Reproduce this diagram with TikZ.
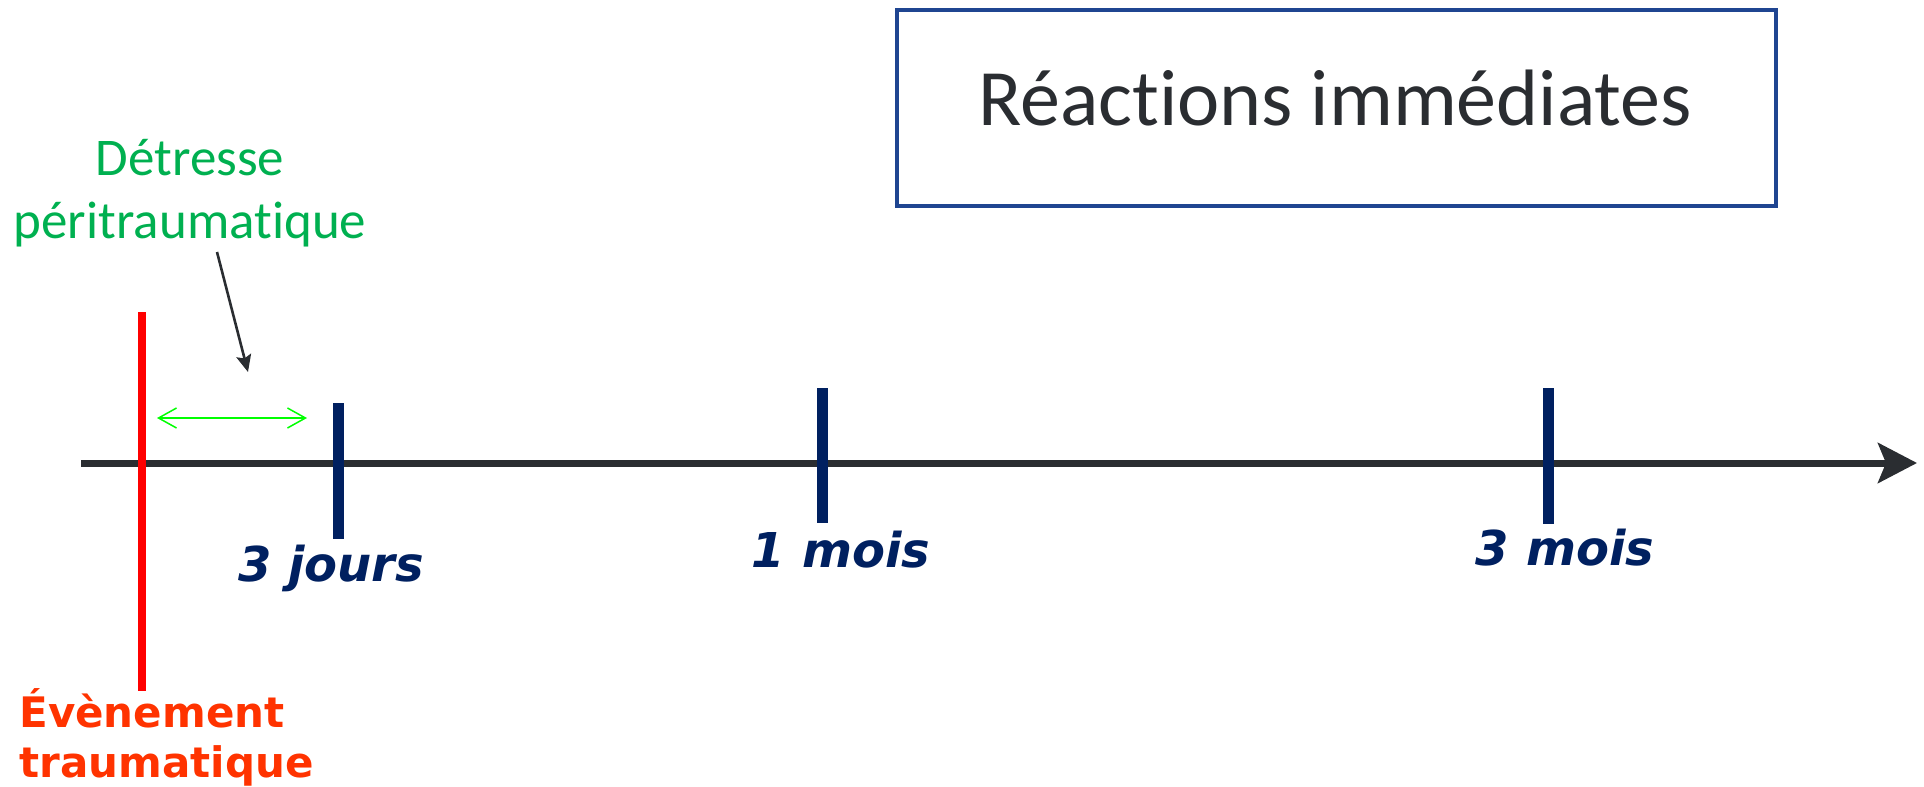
\documentclass[tikz,border=0pt]{standalone}
\usepackage{fontspec}
\setmainfont[Ligatures={NoCommon}]{Carlito}
\newfontfamily\dejavu{DejaVu Sans}
\usetikzlibrary{arrows.meta}
\definecolor{axisgray}{HTML}{2A2D31}
\definecolor{navy}{HTML}{002060}
\definecolor{tgreen}{HTML}{00B050}
\definecolor{lgreen}{HTML}{00FF00}
\definecolor{evorange}{HTML}{FF3300}
\definecolor{boxblue}{HTML}{1F4591}
\definecolor{titlegray}{HTML}{2A2D31}
\tikzset{
  tick/.style={draw=navy, line width=5.5pt},
  ticklabel/.style={anchor=base, inner sep=0pt, text=navy, font=\dejavu\bfseries\itshape\fontsize{24}{29}\selectfont},
  evline/.style={draw=red, line width=4pt},
  axisline/.style={draw=axisgray, line width=3.5pt, -{Stealth[length=19.5pt,width=20pt,inset=4pt]}},
  pointer/.style={draw=axisgray, line width=1.3pt, -{Stealth[length=8.5pt,width=7.5pt,inset=1.5pt]}},
  span/.style={draw=lgreen, line width=0.75pt, {Straight Barb[length=9pt,width=10pt]}-{Straight Barb[length=9pt,width=10pt]}},
  boxstyle/.style={draw=boxblue, line width=2pt, minimum width=439.5pt, minimum height=98pt, inner sep=0pt},
}
\begin{document}
\begin{tikzpicture}[x=0.5pt,y=-0.5pt]
\useasboundingbox (0,0) rectangle (1924,787);
% title box
\node[boxstyle] (box) at (1336.5,108) {};
\node[anchor=base, inner sep=0pt, text=titlegray, font=\fontsize{40}{48}\selectfont] (title) at (1335,125) {Réactions immédiates};
% axis
\coordinate (axstart) at (81,463);
\coordinate (axend) at (1917,463);
\draw[axisline] (axstart) -- (axend);
% event line
\coordinate (evtop) at (142,312);
\coordinate (evbot) at (142,691);
\draw[evline] (evtop) -- (evbot);
% ticks
\coordinate (t1top) at (338,403);
\coordinate (t1bot) at (338,539);
\coordinate (t2top) at (822,388);
\coordinate (t2bot) at (822,523);
\coordinate (t3top) at (1548,388);
\coordinate (t3bot) at (1548,524);
\draw[tick] (t1top) -- (t1bot);
\draw[tick] (t2top) -- (t2bot);
\draw[tick] (t3top) -- (t3bot);
\node[ticklabel] (l1) at (331,581) {3 jours};
\node[ticklabel] (l2) at (841,567) {1 mois};
\node[ticklabel] (l3) at (1565,565) {3 mois};
% span arrow
\coordinate (spanL) at (157,418);
\coordinate (spanR) at (307,418);
\draw[span] (spanL) -- (spanR);
% detresse label
\node[anchor=base, inner sep=0pt, align=center, text=tgreen, font=\fontsize{26.5}{31.5}\selectfont] (det) at (190,238) {Détresse\\péritraumatique};
\coordinate (pstart) at (217,252);
\coordinate (pend) at (248,372);
\draw[pointer] (pstart) -- (pend);
% event label
\node[anchor=base west, inner sep=0pt, align=left, text=evorange, font=\dejavu\bfseries\fontsize{21}{25}\selectfont] (ev) at (19,777) {Évènement\\traumatique};
\end{tikzpicture}
\end{document}
